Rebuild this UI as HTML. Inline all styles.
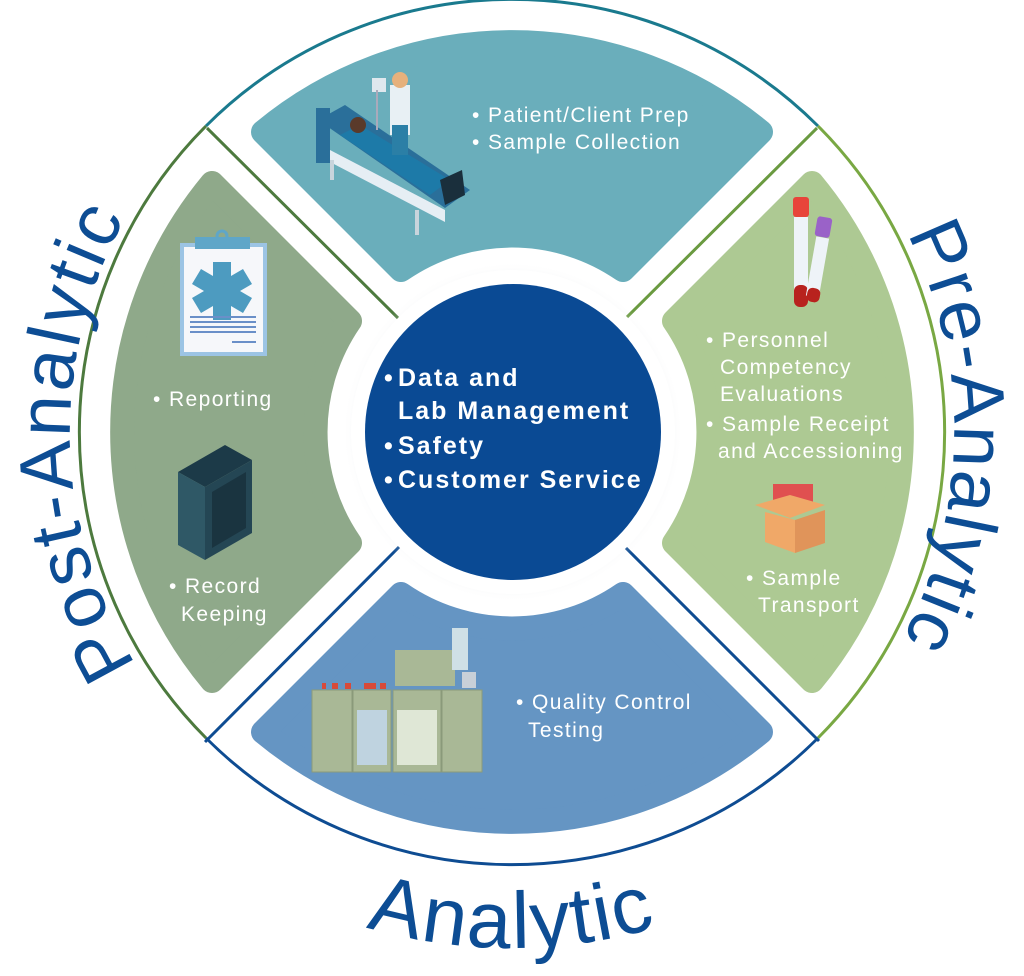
<!DOCTYPE html>
<html><head><meta charset="utf-8"><style>
html,body{margin:0;padding:0;background:#fff;}
svg{display:block;}
.t{font-family:"Liberation Sans",sans-serif;fill:#fff;font-size:21px;letter-spacing:1.4px;}
.c{font-family:"Liberation Sans",sans-serif;fill:#fff;font-size:25px;font-weight:bold;letter-spacing:2px;}
.big{font-family:"Liberation Sans",sans-serif;fill:#0d4d94;}
</style></head><body>
<svg width="1024" height="976" viewBox="0 0 1024 976" xmlns="http://www.w3.org/2000/svg">
<defs>
<path id="pl" d="M512,874 A442,442 0 0 1 512,-10"/>
<path id="pr" d="M512,-10 A442,442 0 0 1 512,874"/>
<path id="pb" d="M-4,432 A516,516 0 0 0 1028,432"/>
<radialGradient id="halo" cx="50%" cy="50%" r="50%">
<stop offset="82%" stop-color="#b9bfc8"/><stop offset="100%" stop-color="#fff" stop-opacity="0"/>
</radialGradient>
</defs>
<g fill="none" stroke-width="3">
<path d="M206,126 A433,433 0 0 1 818,126" stroke="#1a7a8e"/>
<path d="M818,126 A433,433 0 0 1 818,738" stroke="#79a843"/>
<path d="M818,738 A433,433 0 0 1 206,738" stroke="#0e4c92"/>
<path d="M206,738 A433,433 0 0 1 206,126" stroke="#4d7a3e"/>
</g>
<g stroke-width="3">
<line x1="207" y1="128" x2="405" y2="325" stroke="#4d7a3e"/>
<line x1="817" y1="128" x2="619" y2="325" stroke="#6a9a40"/>
<line x1="205" y1="742" x2="403" y2="543" stroke="#0e4c92"/>
<line x1="819" y1="741" x2="621" y2="543" stroke="#0e4c92"/>
</g>
<g stroke-width="24" stroke-linejoin="round">
<path d="M263,132 A390,390 0 0 1 761,132 L623,270 A196,196 0 0 0 401,270 Z" fill="#6aaebb" stroke="#6aaebb"/>
<path d="M401,594 A196,196 0 0 0 623,594 L761,732 A390,390 0 0 1 263,732 Z" fill="#6595c3" stroke="#6595c3"/>
<path d="M212,183 L350,321 A196,196 0 0 0 350,543 L212,681 A390,390 0 0 1 212,183 Z" fill="#8fa98a" stroke="#8fa98a"/>
<path d="M812,183 A390,390 0 0 1 812,681 L674,543 A196,196 0 0 0 674,321 Z" fill="#adc993" stroke="#adc993"/>
</g>
<circle cx="513" cy="432" r="170" fill="url(#halo)" opacity="0.6"/>
<circle cx="513" cy="432" r="162" fill="#fff"/>
<circle cx="513" cy="432" r="148" fill="#0a4a94"/>
<text class="c"><tspan x="384" y="386">•</tspan><tspan x="398" y="386">Data and</tspan>
<tspan x="398" y="419">Lab Management</tspan>
<tspan x="384" y="454">•</tspan><tspan x="398" y="454">Safety</tspan>
<tspan x="384" y="488">•</tspan><tspan x="398" y="488">Customer Service</tspan></text>
<text class="t"><tspan x="472" y="122">• Patient/Client Prep</tspan><tspan x="472" y="149">• Sample Collection</tspan></text>
<text class="t"><tspan x="706" y="347">• Personnel</tspan><tspan x="720" y="374">Competency</tspan><tspan x="720" y="401">Evaluations</tspan><tspan x="706" y="431">• Sample Receipt</tspan><tspan x="718" y="458">and Accessioning</tspan></text>
<text class="t"><tspan x="746" y="585">• Sample</tspan><tspan x="758" y="612">Transport</tspan></text>
<text class="t"><tspan x="153" y="406">• Reporting</tspan></text>
<text class="t"><tspan x="169" y="593">• Record</tspan><tspan x="181" y="621">Keeping</tspan></text>
<text class="t"><tspan x="516" y="709">• Quality Control</tspan><tspan x="528" y="737">Testing</tspan></text>
<g>
<polygon points="318,120 345,105 470,190 445,208" fill="#2a6f9a"/>
<polygon points="330,150 445,210 445,222 330,162" fill="#e6eef4"/>
<polygon points="340,135 360,125 450,180 430,195" fill="#1d7aa8"/>
<rect x="316" y="108" width="14" height="55" fill="#2a6f9a"/>
<circle cx="358" cy="125" r="8" fill="#5a3a2a"/>
<rect x="390" y="85" width="20" height="50" fill="#e8f0f4"/>
<rect x="392" y="125" width="16" height="30" fill="#2b7fa6"/>
<circle cx="400" cy="80" r="8" fill="#e6b17c"/>
<rect x="372" y="78" width="14" height="14" fill="#dfe8ee"/>
<line x1="377" y1="90" x2="377" y2="130" stroke="#aab" stroke-width="2"/>
<polygon points="440,180 462,170 465,195 445,205" fill="#1a2f3c"/>
<rect x="330" y="160" width="4" height="20" fill="#c8d4dc"/><rect x="415" y="210" width="4" height="25" fill="#c8d4dc"/>
</g>
<g>
<rect x="180" y="243" width="87" height="113" fill="#9cc4e4"/>
<rect x="184" y="247" width="79" height="105" fill="#f6f7fa"/>
<rect x="195" y="237" width="55" height="12" fill="#5fa6c8"/>
<circle cx="222" cy="236" r="5" fill="none" stroke="#5fa6c8" stroke-width="3"/>
<path d="M213,262 h18 v14 l12,-7 9,15 -12,7 12,7 -9,15 -12,-7 v14 h-18 v-14 l-12,7 -9,-15 12,-7 -12,-7 9,-15 12,7 Z" fill="#4d9bc0"/>
<g stroke="#6a8fc8" stroke-width="2"><line x1="190" y1="317" x2="256" y2="317"/><line x1="190" y1="322" x2="256" y2="322"/><line x1="190" y1="327" x2="256" y2="327"/><line x1="190" y1="332" x2="256" y2="332"/><line x1="232" y1="342" x2="256" y2="342"/></g>
</g>
<g>
<polygon points="178,472 225,445 252,460 205,487" fill="#1c3a48"/>
<polygon points="178,472 205,487 205,560 178,545" fill="#2f5866"/>
<polygon points="205,487 252,460 252,533 205,560" fill="#244654"/>
<polygon points="212,492 246,472 246,528 212,548" fill="#1a3440"/>
</g>
<g>
<rect x="793" y="197" width="16" height="20" rx="3" fill="#e8443a"/>
<rect x="794" y="217" width="14" height="75" fill="#eef3f8"/>
<rect x="794" y="285" width="14" height="22" rx="6" fill="#b8221e"/>
<rect x="816" y="217" width="15" height="20" rx="3" fill="#9a62c8" transform="rotate(10 823 227)"/>
<rect x="811" y="237" width="13" height="60" fill="#eef3f8" transform="rotate(10 817 267)"/>
<rect x="807" y="288" width="13" height="14" rx="5" fill="#b8221e" transform="rotate(10 813 295)"/>
</g>
<g>
<rect x="773" y="484" width="40" height="20" fill="#e05050"/>
<polygon points="755,505 790,495 825,505 790,518" fill="#f0a868"/>
<polygon points="765,512 795,520 795,553 765,542" fill="#f0a868"/>
<polygon points="795,520 825,510 825,543 795,553" fill="#e0945a"/>
</g>
<g>
<rect x="395" y="650" width="60" height="36" fill="#a9b896"/>
<rect x="452" y="628" width="16" height="42" fill="#cfe0e6"/>
<rect x="312" y="690" width="40" height="82" fill="#a9b896" stroke="#8a9a7a"/>
<rect x="353" y="690" width="38" height="82" fill="#a9b896" stroke="#8a9a7a"/>
<rect x="357" y="710" width="30" height="55" fill="#bfd3e0"/>
<rect x="393" y="690" width="48" height="82" fill="#a9b896" stroke="#8a9a7a"/>
<rect x="397" y="710" width="40" height="55" fill="#dfe7d6"/>
<rect x="442" y="690" width="40" height="82" fill="#a9b896" stroke="#8a9a7a"/>
<rect x="462" y="672" width="14" height="16" fill="#c8d0d8"/>
<g fill="#d84a3a"><rect x="322" y="683" width="4" height="6"/><rect x="332" y="683" width="6" height="6"/><rect x="345" y="683" width="6" height="6"/><rect x="364" y="683" width="12" height="6"/><rect x="380" y="683" width="6" height="6"/></g>
</g>
<text class="big" font-size="74" letter-spacing="3"><textPath href="#pl" startOffset="49.3%" text-anchor="middle">Post-Analytic</textPath></text>
<text class="big" font-size="74" letter-spacing="2"><textPath href="#pr" startOffset="50.4%" text-anchor="middle">Pre-Analytic</textPath></text>
<text class="big" font-size="80" letter-spacing="2"><textPath href="#pb" startOffset="50%" text-anchor="middle">Analytic</textPath></text>
</svg>
</body></html>
